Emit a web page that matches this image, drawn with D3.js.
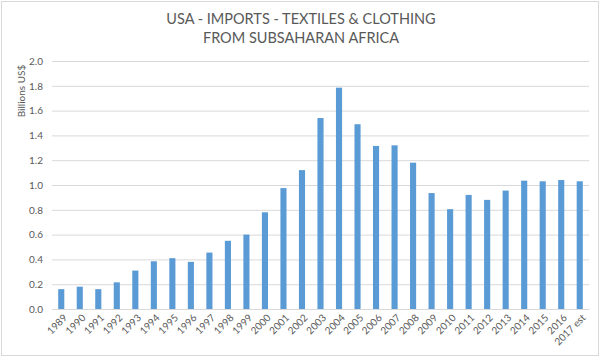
<!DOCTYPE html>
<html><head><meta charset="utf-8">
<script src="https://cdn.jsdelivr.net/npm/d3@7"></script>
<style>body{margin:0;background:#fff}svg{display:block}</style>
</head><body>
<svg id="c" width="601" height="357"></svg>
<script>
const categories = ["1989","1990","1991","1992","1993","1994","1995","1996","1997","1998","1999","2000","2001","2002","2003","2004","2005","2006","2007","2008","2009","2010","2011","2012","2013","2014","2015","2016","2017 est"];
const values = [0.16,0.18,0.16,0.215,0.31,0.385,0.41,0.38,0.455,0.55,0.60,0.78,0.975,1.12,1.54,1.785,1.49,1.315,1.32,1.18,0.935,0.805,0.92,0.88,0.955,1.035,1.03,1.04,1.03];
const yTicks = [0,0.2,0.4,0.6,0.8,1.0,1.2,1.4,1.6,1.8,2.0];
const titleLines = ["USA - IMPORTS - TEXTILES & CLOTHING","FROM SUBSAHARAN AFRICA"];
const yTitle = "Billions US$";

const svg = d3.select("#c");
const font = "Lato, 'Open Sans', sans-serif";
const grey = "#595959";
const m = {left:52, right:589, top:61, bottom:309};

svg.append("rect").attr("x",1.5).attr("y",1.5).attr("width",597).attr("height",354)
  .attr("fill","#fff").attr("stroke","#d9d9d9");

const x = d3.scaleBand().domain(categories).range([m.left,m.right]).paddingInner(0.67).paddingOuter(0.335);
const y = d3.scaleLinear().domain([0,2]).range([m.bottom,m.top]);

const ga = svg.append("g").attr("transform",`translate(${m.left},0)`)
  .call(d3.axisLeft(y).tickValues(yTicks).tickFormat(d3.format(".1f")).tickSize(-(m.right-m.left)).tickPadding(9));
ga.select(".domain").remove();
ga.selectAll(".tick line").attr("stroke","#d9d9d9");
ga.selectAll(".tick text").attr("fill",grey).style("font-family",font).style("font-size","10px");

svg.append("g").selectAll("rect").data(values).join("rect")
  .attr("x",(d,i)=>x(categories[i])).attr("width",x.bandwidth())
  .attr("y",d=>y(d)).attr("height",d=>y(0)-y(d)).attr("fill","#5b9bd5");

const gx = svg.append("g").attr("transform",`translate(0,${m.bottom})`)
  .call(d3.axisBottom(x).tickSize(0).tickPadding(0));
gx.select(".domain").attr("stroke","#d9d9d9");
gx.selectAll(".tick text").attr("fill",grey).style("font-family",font).style("font-size","10px")
  .attr("text-anchor","end").attr("dy","0.35em")
  .attr("transform","translate(4,7) rotate(-45)");

svg.append("g").selectAll("text").data(titleLines).join("text")
  .attr("x",301).attr("y",(d,i)=>24+i*19).attr("text-anchor","middle")
  .attr("fill",grey).style("font-family",font).style("font-size","14.5px").text(d=>d);

svg.append("text").attr("transform","translate(25,91) rotate(-90)").attr("text-anchor","middle")
  .attr("fill",grey).style("font-family",font).style("font-size","10px").text(yTitle);
</script>
</body></html>
